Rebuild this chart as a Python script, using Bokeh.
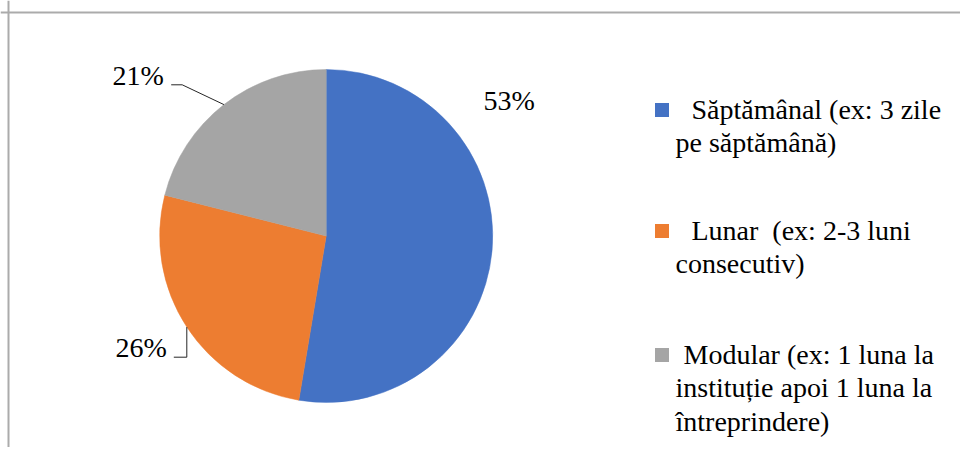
import math
from bokeh.plotting import figure
from bokeh.models import ColumnDataSource, Range1d, Span
from bokeh.core.properties import value
from bokeh.embed import file_html
from bokeh.resources import INLINE

# ---- data ----
categories = [
    "Săptămânal (ex: 3 zile\npe săptămână)",
    "Lunar  (ex: 2-3 luni\nconsecutiv)",
    "Modular (ex: 1 luna la\ninstituție apoi 1 luna la\nîntreprindere)",
]
counts = [10, 5, 4]
colors = ["#4472C4", "#ED7D31", "#A5A5A5"]

# ---- layout (pixels) ----
W, H = 960, 447
FONT = "Liberation Serif"
FS = "28px"
BL = 9.5  # offset between wanted baseline and rendered text anchor

def dx(x):  # page x -> data x
    return x

def dy(y):  # page y -> data y
    return H - y

cx, cy, r = dx(325.7), dy(235.5), 166.5

p = figure(width=W, height=H, output_backend="svg", toolbar_location=None,
           x_range=Range1d(0, W), y_range=Range1d(0, H), min_border=0,
           background_fill_color="white", border_fill_color="white")
p.axis.visible = False
p.grid.visible = False
p.outline_line_color = None

# chart border (top and left edges visible)
p.add_layout(Span(location=dy(12), dimension="width", line_color="#ababab", line_width=2))
p.add_layout(Span(location=dx(8), dimension="height", line_color="#ababab", line_width=2))

# ---- pie ----
total = sum(counts)
fracs = [c / total for c in counts]
cum = [0.0]
for f in fracs:
    cum.append(cum[-1] + f)
starts = [math.pi / 2 - 2 * math.pi * cum[i] for i in range(len(fracs))]
ends = [math.pi / 2 - 2 * math.pi * cum[i + 1] for i in range(len(fracs))]
src = ColumnDataSource(dict(start=starts, end=ends, color=colors))
p.wedge(x=cx, y=cy, radius=r, start_angle="start", end_angle="end",
        direction="clock", fill_color="color", line_color="color", line_width=0.5,
        source=src)

def edge_point(i):
    th = 2 * math.pi * (cum[i] + fracs[i] / 2)
    return cx + r * math.sin(th), cy + r * math.cos(th)

pct = [f"{round(f * 100)}%" for f in fracs]

# leader lines
ax2, ay2 = edge_point(2)
ax1, ay1 = edge_point(1)
p.line(x=[ax2, dx(181.7), dx(170.7)], y=[ay2, dy(84.3), dy(84.3)],
       line_color="#262626", line_width=1)
p.line(x=[ax1, ax1, dx(173.3)], y=[ay1, dy(356.7), dy(356.7)],
       line_color="#262626", line_width=1)

# percent labels
lab_x = [dx(483), dx(115), dx(112)]
lab_y = [dy(109.3 - BL), dy(356.7 - BL), dy(84.3 - BL)]
p.text(x=lab_x, y=lab_y, text=pct, text_font=value(FONT), text_font_size=FS,
       text_color="black", text_align="left", text_baseline="alphabetic")

# ---- legend ----
row_base = [118, 239, 363]
first_indent = [16, 16, 8]
line_step = 33.7
sq_x, sq_y = [], []
tx, ty, tt = [], [], []
for i, lab in enumerate(categories):
    sq_x.append(dx(661.5))
    sq_y.append(dy(row_base[i] - 8.5))
    for j, line in enumerate(lab.split("\n")):
        tx.append(dx(675 + (first_indent[i] if j == 0 else 0)))
        ty.append(dy(row_base[i] + j * line_step - BL))
        tt.append(line.replace("  ", " \u00a0"))
p.scatter(x=sq_x, y=sq_y, marker="square", size=14, fill_color=colors,
          line_color=None)
p.text(x=tx, y=ty, text=tt, text_font=value(FONT), text_font_size=FS,
       text_color="black", text_align="left", text_baseline="alphabetic")

open("out.html", "w").write(file_html(p, INLINE))
